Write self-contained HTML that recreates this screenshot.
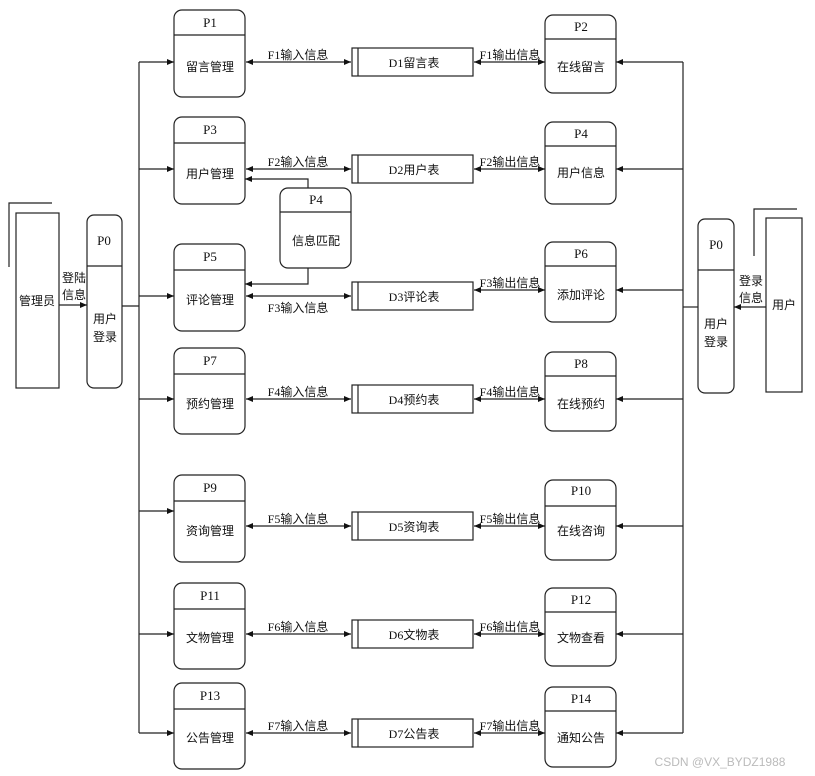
<!DOCTYPE html>
<html><head><meta charset="utf-8"><style>
html,body{margin:0;padding:0;background:#fff;}
svg{display:block;font-family:"Liberation Serif","Noto Sans CJK SC",serif;}
.t{font-size:12px;fill:#111;text-anchor:middle;}
.p{font-size:13px;fill:#111;text-anchor:middle;}
</style></head><body>
<svg width="815" height="776" viewBox="0 0 815 776" xmlns="http://www.w3.org/2000/svg">
<defs><marker id="a" markerWidth="8" markerHeight="8" refX="7" refY="4" orient="auto-start-reverse" markerUnits="userSpaceOnUse"><path d="M0,1 L7,4 L0,7 z" fill="#111"/></marker></defs>
<g stroke="#222" stroke-width="1.2" fill="none">
<path d="M9,267 V203 H52"/><rect x="16" y="213" width="43" height="175"/>
<rect x="87" y="215" width="35" height="173" rx="7"/><line x1="87" y1="266" x2="122" y2="266"/>
<line x1="59" y1="305" x2="87" y2="305" marker-end="url(#a)"/>
<line x1="122" y1="306" x2="139" y2="306"/>
<line x1="139" y1="62" x2="139" y2="733"/>
<line x1="139" y1="62" x2="174" y2="62" marker-end="url(#a)"/>
<line x1="139" y1="169" x2="174" y2="169" marker-end="url(#a)"/>
<line x1="139" y1="296" x2="174" y2="296" marker-end="url(#a)"/>
<line x1="139" y1="399" x2="174" y2="399" marker-end="url(#a)"/>
<line x1="139" y1="511" x2="174" y2="511" marker-end="url(#a)"/>
<line x1="139" y1="634" x2="174" y2="634" marker-end="url(#a)"/>
<line x1="139" y1="733" x2="174" y2="733" marker-end="url(#a)"/>
<path d="M754,256 V209 H797"/><rect x="766" y="218" width="36" height="174"/>
<rect x="698" y="219" width="36" height="174" rx="7"/><line x1="698" y1="270" x2="734" y2="270"/>
<line x1="766" y1="307" x2="734" y2="307" marker-end="url(#a)"/>
<line x1="698" y1="307" x2="683" y2="307"/>
<line x1="683" y1="62" x2="683" y2="733"/>
<line x1="683" y1="62" x2="616" y2="62" marker-end="url(#a)"/>
<line x1="683" y1="169" x2="616" y2="169" marker-end="url(#a)"/>
<line x1="683" y1="290" x2="616" y2="290" marker-end="url(#a)"/>
<line x1="683" y1="399" x2="616" y2="399" marker-end="url(#a)"/>
<line x1="683" y1="526" x2="616" y2="526" marker-end="url(#a)"/>
<line x1="683" y1="634" x2="616" y2="634" marker-end="url(#a)"/>
<line x1="683" y1="733" x2="616" y2="733" marker-end="url(#a)"/>
<rect x="174" y="10" width="71" height="87" rx="8"/><line x1="174" y1="35" x2="245" y2="35"/>
<rect x="174" y="117" width="71" height="87" rx="8"/><line x1="174" y1="143" x2="245" y2="143"/>
<rect x="174" y="244" width="71" height="87" rx="8"/><line x1="174" y1="270" x2="245" y2="270"/>
<rect x="174" y="348" width="71" height="86" rx="8"/><line x1="174" y1="374" x2="245" y2="374"/>
<rect x="174" y="475" width="71" height="87" rx="8"/><line x1="174" y1="501" x2="245" y2="501"/>
<rect x="174" y="583" width="71" height="86" rx="8"/><line x1="174" y1="609" x2="245" y2="609"/>
<rect x="174" y="683" width="71" height="86" rx="8"/><line x1="174" y1="709" x2="245" y2="709"/>
<rect x="280" y="188" width="71" height="80" rx="8"/><line x1="280" y1="212" x2="351" y2="212"/>
<path d="M308,188 V179 H245" marker-end="url(#a)"/>
<path d="M308,268 V284 H245" marker-end="url(#a)"/>
<rect x="545" y="15" width="71" height="78" rx="8"/><line x1="545" y1="39" x2="616" y2="39"/>
<rect x="545" y="122" width="71" height="82" rx="8"/><line x1="545" y1="146" x2="616" y2="146"/>
<rect x="545" y="242" width="71" height="80" rx="8"/><line x1="545" y1="266" x2="616" y2="266"/>
<rect x="545" y="352" width="71" height="79" rx="8"/><line x1="545" y1="376" x2="616" y2="376"/>
<rect x="545" y="480" width="71" height="80" rx="8"/><line x1="545" y1="506" x2="616" y2="506"/>
<rect x="545" y="588" width="71" height="78" rx="8"/><line x1="545" y1="612" x2="616" y2="612"/>
<rect x="545" y="687" width="71" height="80" rx="8"/><line x1="545" y1="711" x2="616" y2="711"/>
</g>
<g stroke="#222" stroke-width="1.2" fill="none">
<rect x="352" y="48" width="121" height="28"/><line x1="358" y1="48" x2="358" y2="76"/>
<line x1="246" y1="62" x2="351" y2="62" marker-start="url(#a)" marker-end="url(#a)"/>
<line x1="474" y1="62" x2="545" y2="62" marker-start="url(#a)" marker-end="url(#a)"/>
<rect x="352" y="155" width="121" height="28"/><line x1="358" y1="155" x2="358" y2="183"/>
<line x1="246" y1="169" x2="351" y2="169" marker-start="url(#a)" marker-end="url(#a)"/>
<line x1="474" y1="169" x2="545" y2="169" marker-start="url(#a)" marker-end="url(#a)"/>
<rect x="352" y="282" width="121" height="28"/><line x1="358" y1="282" x2="358" y2="310"/>
<line x1="246" y1="296" x2="351" y2="296" marker-start="url(#a)" marker-end="url(#a)"/>
<line x1="474" y1="290" x2="545" y2="290" marker-start="url(#a)" marker-end="url(#a)"/>
<rect x="352" y="385" width="121" height="28"/><line x1="358" y1="385" x2="358" y2="413"/>
<line x1="246" y1="399" x2="351" y2="399" marker-start="url(#a)" marker-end="url(#a)"/>
<line x1="474" y1="399" x2="545" y2="399" marker-start="url(#a)" marker-end="url(#a)"/>
<rect x="352" y="512" width="121" height="28"/><line x1="358" y1="512" x2="358" y2="540"/>
<line x1="246" y1="526" x2="351" y2="526" marker-start="url(#a)" marker-end="url(#a)"/>
<line x1="474" y1="526" x2="545" y2="526" marker-start="url(#a)" marker-end="url(#a)"/>
<rect x="352" y="620" width="121" height="28"/><line x1="358" y1="620" x2="358" y2="648"/>
<line x1="246" y1="634" x2="351" y2="634" marker-start="url(#a)" marker-end="url(#a)"/>
<line x1="474" y1="634" x2="545" y2="634" marker-start="url(#a)" marker-end="url(#a)"/>
<rect x="352" y="719" width="121" height="28"/><line x1="358" y1="719" x2="358" y2="747"/>
<line x1="246" y1="733" x2="351" y2="733" marker-start="url(#a)" marker-end="url(#a)"/>
<line x1="474" y1="733" x2="545" y2="733" marker-start="url(#a)" marker-end="url(#a)"/>
</g>
<g class="t">
<text x="37" y="305">管理员</text>
<text x="74" y="282">登陆</text><text x="74" y="299">信息</text>
<text x="105" y="323">用户</text><text x="105" y="341">登录</text>
<text x="784" y="309">用户</text>
<text x="751" y="285">登录</text><text x="751" y="302">信息</text>
<text x="716" y="328">用户</text><text x="716" y="346">登录</text>
<text x="210" y="71">留言管理</text><text x="210" y="178">用户管理</text><text x="210" y="304">评论管理</text>
<text x="210" y="408">预约管理</text><text x="210" y="535">资询管理</text><text x="210" y="642">文物管理</text><text x="210" y="742">公告管理</text>
<text x="316" y="245">信息匹配</text>
<text x="581" y="71">在线留言</text><text x="581" y="177">用户信息</text><text x="581" y="299">添加评论</text>
<text x="581" y="408">在线预约</text><text x="581" y="535">在线咨询</text><text x="581" y="642">文物查看</text><text x="581" y="742">通知公告</text>
<text x="414" y="67">D1留言表</text><text x="414" y="174">D2用户表</text><text x="414" y="301">D3评论表</text>
<text x="414" y="404">D4预约表</text><text x="414" y="531">D5资询表</text><text x="414" y="639">D6文物表</text><text x="414" y="738">D7公告表</text>
<text x="298" y="59">F1输入信息</text><text x="298" y="166">F2输入信息</text><text x="298" y="312">F3输入信息</text>
<text x="298" y="396">F4输入信息</text><text x="298" y="523">F5输入信息</text><text x="298" y="631">F6输入信息</text><text x="298" y="730">F7输入信息</text>
<text x="510" y="59">F1输出信息</text><text x="510" y="166">F2输出信息</text><text x="510" y="287">F3输出信息</text>
<text x="510" y="396">F4输出信息</text><text x="510" y="523">F5输出信息</text><text x="510" y="631">F6输出信息</text><text x="510" y="730">F7输出信息</text>
</g>
<g class="p">
<text x="104" y="245">P0</text><text x="716" y="249">P0</text>
<text x="210" y="27">P1</text><text x="210" y="134">P3</text><text x="210" y="261">P5</text><text x="210" y="365">P7</text>
<text x="210" y="492">P9</text><text x="210" y="600">P11</text><text x="210" y="700">P13</text>
<text x="316" y="204">P4</text>
<text x="581" y="31">P2</text><text x="581" y="138">P4</text><text x="581" y="258">P6</text><text x="581" y="368">P8</text>
<text x="581" y="495">P10</text><text x="581" y="604">P12</text><text x="581" y="703">P14</text>
</g>
<text x="720" y="766" style="font-family:'Liberation Sans',sans-serif;font-size:12px;fill:#bbb;text-anchor:middle">CSDN @VX_BYDZ1988</text>
</svg>
</body></html>
